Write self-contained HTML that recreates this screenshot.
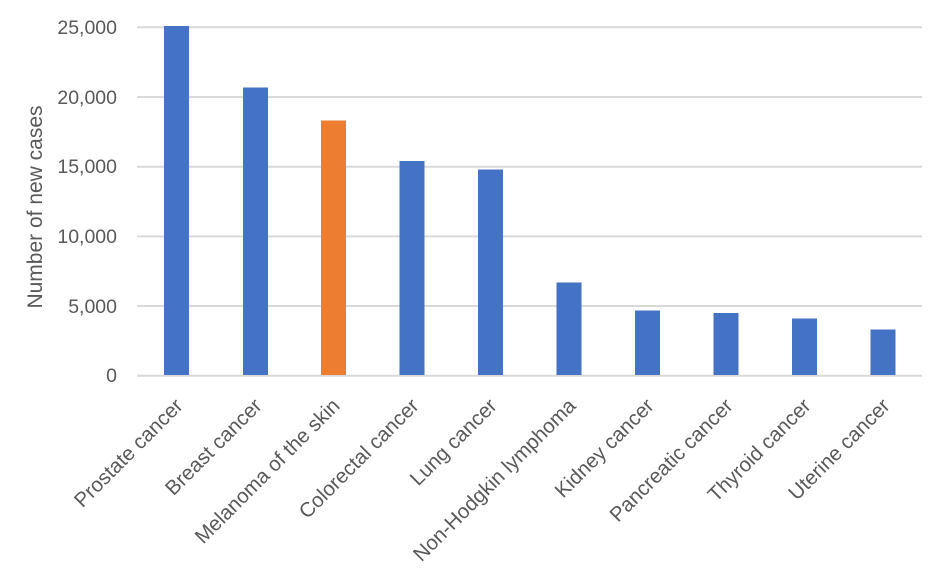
<!DOCTYPE html>
<html><head><meta charset="utf-8"><style>body{margin:0;background:#fff}svg{display:block}</style></head>
<body>
<svg width="944" height="574" xmlns="http://www.w3.org/2000/svg" font-family="Liberation Sans, sans-serif" fill="#595959">
<g stroke="#d9d9d9" stroke-width="2">
<line x1="137" x2="922" y1="27.3" y2="27.3"/>
<line x1="137" x2="922" y1="97" y2="97"/>
<line x1="137" x2="922" y1="166.7" y2="166.7"/>
<line x1="137" x2="922" y1="236.4" y2="236.4"/>
<line x1="137" x2="922" y1="306" y2="306"/>
<line x1="137" x2="922" y1="375.7" y2="375.7"/>
</g>
<g font-size="19.5" text-anchor="end">
<text x="117" y="34">25,000</text>
<text x="117" y="104">20,000</text>
<text x="117" y="173">15,000</text>
<text x="117" y="243">10,000</text>
<text x="117" y="313">5,000</text>
<text x="117" y="382">0</text>
</g>
<text transform="translate(42,207) rotate(-90)" font-size="21" text-anchor="middle">Number of new cases</text>
<g fill="#4472c4">
<rect x="164" y="26" width="25" height="349"/>
<rect x="243" y="87.5" width="25" height="287.5"/>
<rect x="321" y="120.5" width="25" height="254.5" fill="#ed7d31"/>
<rect x="399.5" y="161" width="25" height="214"/>
<rect x="478" y="169.5" width="25" height="205.5"/>
<rect x="556.5" y="282.5" width="25" height="92.5"/>
<rect x="635" y="310.5" width="25" height="64.5"/>
<rect x="713.5" y="313" width="25" height="62"/>
<rect x="792" y="318.5" width="25" height="56.5"/>
<rect x="870.5" y="329.5" width="25" height="45.5"/>
</g>
<g font-size="20.5" text-anchor="end">
<text transform="translate(184,407) rotate(-45)">Prostate cancer</text>
<text transform="translate(263,407) rotate(-45)">Breast cancer</text>
<text transform="translate(341,407) rotate(-45)">Melanoma of the skin</text>
<text transform="translate(420,407) rotate(-45)">Colorectal cancer</text>
<text transform="translate(498,407) rotate(-45)">Lung cancer</text>
<text transform="translate(577,407) rotate(-45)">Non-Hodgkin lymphoma</text>
<text transform="translate(655,407) rotate(-45)">Kidney cancer</text>
<text transform="translate(734,407) rotate(-45)">Pancreatic cancer</text>
<text transform="translate(812,407) rotate(-45)">Thyroid cancer</text>
<text transform="translate(891,407) rotate(-45)">Uterine cancer</text>
</g>
</svg>
</body></html>
